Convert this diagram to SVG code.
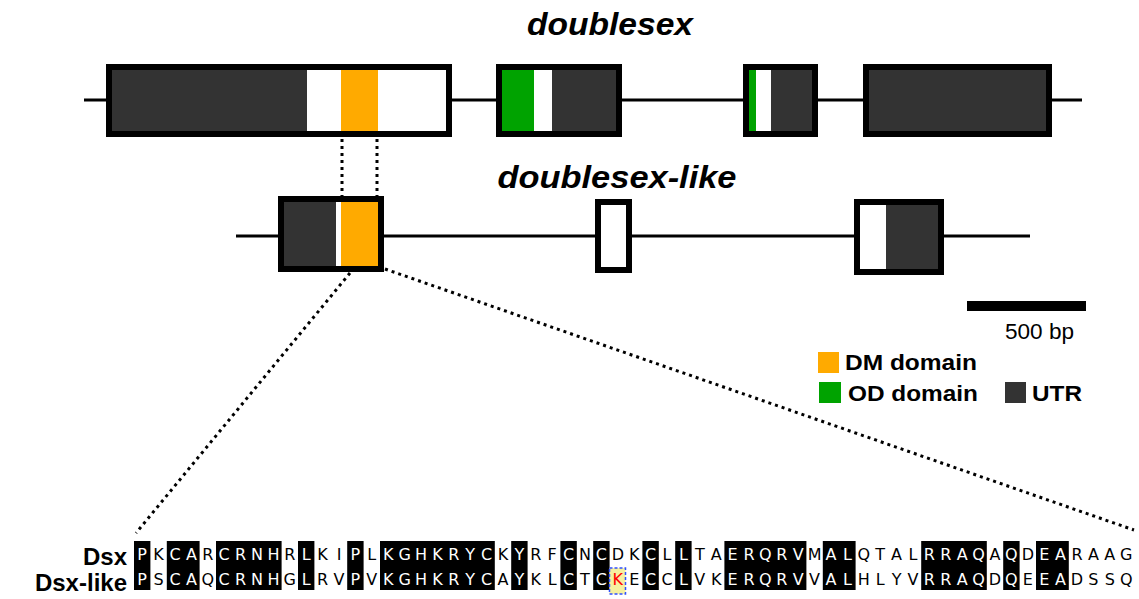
<svg xmlns="http://www.w3.org/2000/svg" width="1139" height="599" viewBox="0 0 1139 599">
<style>
.t{font-family:"Liberation Sans",Arial,sans-serif;fill:#000}
.ti{font-weight:bold;font-style:italic;font-size:32px;text-anchor:middle}
.lg{font-weight:bold;font-size:22px}
.ex{stroke:#000;stroke-width:6;fill:none}
.u{fill:#333333}
.dm{fill:#FFAA00}
.od{fill:#00A300}
.wf{fill:#fff}
.ln{stroke:#000;stroke-width:3;fill:none}
.dot{stroke:#000;stroke-width:3;fill:none;stroke-dasharray:3 4}
.seq{font-family:"DejaVu Sans",Verdana,sans-serif;font-size:16px;text-anchor:middle;fill:#000}
.w{fill:#fff}
.nm{font-family:"Liberation Sans",Arial,sans-serif;font-weight:bold;font-size:24px;text-anchor:end}
</style>
<rect width="1139" height="599" fill="#fff"/>
<g id="connectors">
<line class="ln" x1="84" y1="100" x2="1082" y2="100"/>
<line class="ln" x1="236" y1="236" x2="1030" y2="236"/>
<line class="dot" x1="342" y1="139" x2="342" y2="196"/>
<line class="dot" x1="377" y1="139" x2="377" y2="196"/>
<line class="dot" x1="350" y1="273" x2="136" y2="533"/>
<line class="dot" x1="385" y1="269" x2="1134" y2="530"/>
</g>
<g id="title-dsx"><text class="t ti" x="610" y="35" textLength="166" lengthAdjust="spacingAndGlyphs">doublesex</text></g>
<g id="title-dsxlike"><text class="t ti" x="617" y="188" textLength="239" lengthAdjust="spacingAndGlyphs">doublesex-like</text></g>
<g id="dsx-exon1">
<rect class="u" x="109" y="67" width="198" height="67"/>
<rect class="wf" x="307" y="67" width="34" height="67"/>
<rect class="dm" x="341" y="67" width="37" height="67"/>
<rect class="wf" x="378" y="67" width="71" height="67"/>
<rect class="ex" x="109" y="67" width="340" height="67"/>
</g>
<g id="dsx-exon2">
<rect class="od" x="499" y="67" width="35" height="67"/>
<rect class="wf" x="534" y="67" width="18" height="67"/>
<rect class="u" x="552" y="67" width="67" height="67"/>
<rect class="ex" x="499" y="67" width="120" height="67"/>
</g>
<g id="dsx-exon3">
<rect class="od" x="746" y="67" width="10" height="67"/>
<rect class="wf" x="756" y="67" width="15" height="67"/>
<rect class="u" x="771" y="67" width="44" height="67"/>
<rect class="ex" x="746" y="67" width="69" height="67"/>
</g>
<g id="dsx-exon4">
<rect class="u" x="866" y="67" width="183" height="67"/>
<rect class="ex" x="866" y="67" width="183" height="67"/>
</g>
<g id="dsxlike-exon1">
<rect class="u" x="281" y="199" width="55" height="70"/>
<rect class="wf" x="336" y="199" width="5" height="70"/>
<rect class="dm" x="341" y="199" width="37" height="70"/>
<rect class="wf" x="378" y="199" width="3" height="70"/>
<rect class="ex" x="281" y="199" width="100" height="70"/>
</g>
<g id="dsxlike-exon2">
<rect class="wf" x="598" y="202" width="31" height="68"/>
<rect class="ex" x="598" y="202" width="31" height="68"/>
</g>
<g id="dsxlike-exon3">
<rect class="wf" x="857" y="202" width="29" height="70"/>
<rect class="u" x="886" y="202" width="55" height="70"/>
<rect class="ex" x="857" y="202" width="84" height="70"/>
</g>
<g id="scale-bar">
<rect x="967" y="301" width="119" height="10" fill="#000"/>
<text class="t" x="1005" y="339" font-size="22" textLength="69" lengthAdjust="spacingAndGlyphs">500 bp</text>
</g>
<g id="legend">
<rect class="dm" x="818" y="352" width="21" height="21"/>
<text class="t lg" x="845" y="370" textLength="132" lengthAdjust="spacingAndGlyphs">DM domain</text>
<rect class="od" x="819" y="382" width="22" height="21"/>
<text class="t lg" x="848" y="401" textLength="130" lengthAdjust="spacingAndGlyphs">OD domain</text>
<rect class="u" x="1005" y="382" width="21" height="21"/>
<text class="t lg" x="1032" y="401" textLength="50" lengthAdjust="spacingAndGlyphs">UTR</text>
</g>
<g id="alignment">
<g fill="#000">
<rect x="134" y="541" width="16.4" height="49"/>
<rect x="166.8" y="541" width="32.8" height="49"/>
<rect x="216" y="541" width="65.6" height="49"/>
<rect x="298" y="541" width="16.4" height="49"/>
<rect x="347.2" y="541" width="16.4" height="49"/>
<rect x="380" y="541" width="114.8" height="49"/>
<rect x="511.2" y="541" width="16.4" height="49"/>
<rect x="560.4" y="541" width="16.4" height="49"/>
<rect x="593.2" y="541" width="16.4" height="49"/>
<rect x="642.4" y="541" width="16.4" height="49"/>
<rect x="675.2" y="541" width="16.4" height="49"/>
<rect x="724.4" y="541" width="82" height="49"/>
<rect x="822.8" y="541" width="32.8" height="49"/>
<rect x="921.2" y="541" width="65.6" height="49"/>
<rect x="1003.2" y="541" width="16.4" height="49"/>
<rect x="1036" y="541" width="32.8" height="49"/>
</g>
<rect x="609.5" y="568" width="16" height="26" fill="#F6F0A0" stroke="#2F4FFF" stroke-width="1.5" stroke-dasharray="3 2"/>
<text class="nm" x="127" y="565">Dsx</text>
<text class="nm" x="127" y="591">Dsx-like</text>
<text class="seq" y="560" x="142.2 158.6 175 191.4 207.8 224.2 240.6 257 273.4 289.8 306.2 322.6 339 355.4 371.8 388.2 404.6 421 437.4 453.8 470.2 486.6 503 519.4 535.8 552.2 568.6 585 601.4 617.8 634.2 650.6 667 683.4 699.8 716.2 732.6 749 765.4 781.8 798.2 814.6 831 847.4 863.8 880.2 896.6 913 929.4 945.8 962.2 978.6 995 1011.4 1027.8 1044.2 1060.6 1077 1093.4 1109.8 1126.2"><tspan class="w">P</tspan>K<tspan class="w">CA</tspan>R<tspan class="w">CRNH</tspan>R<tspan class="w">L</tspan>KI<tspan class="w">P</tspan>L<tspan class="w">KGHKRYC</tspan>K<tspan class="w">Y</tspan>RF<tspan class="w">C</tspan>N<tspan class="w">C</tspan>DK<tspan class="w">C</tspan>L<tspan class="w">L</tspan>TA<tspan class="w">ERQRV</tspan>M<tspan class="w">AL</tspan>QTAL<tspan class="w">RRAQ</tspan>A<tspan class="w">Q</tspan>D<tspan class="w">EA</tspan>RAAG</text>
<text class="seq" y="585" x="142.2 158.6 175 191.4 207.8 224.2 240.6 257 273.4 289.8 306.2 322.6 339 355.4 371.8 388.2 404.6 421 437.4 453.8 470.2 486.6 503 519.4 535.8 552.2 568.6 585 601.4 617.8 634.2 650.6 667 683.4 699.8 716.2 732.6 749 765.4 781.8 798.2 814.6 831 847.4 863.8 880.2 896.6 913 929.4 945.8 962.2 978.6 995 1011.4 1027.8 1044.2 1060.6 1077 1093.4 1109.8 1126.2"><tspan class="w">P</tspan>S<tspan class="w">CA</tspan>Q<tspan class="w">CRNH</tspan>G<tspan class="w">L</tspan>RV<tspan class="w">P</tspan>V<tspan class="w">KGHKRYC</tspan>A<tspan class="w">Y</tspan>KL<tspan class="w">C</tspan>T<tspan class="w">C</tspan><tspan fill="#FF0000">K</tspan>E<tspan class="w">C</tspan>C<tspan class="w">L</tspan>VK<tspan class="w">ERQRV</tspan>V<tspan class="w">AL</tspan>HLYV<tspan class="w">RRAQ</tspan>D<tspan class="w">Q</tspan>E<tspan class="w">EA</tspan>DSSQ</text>
</g>
</svg>
